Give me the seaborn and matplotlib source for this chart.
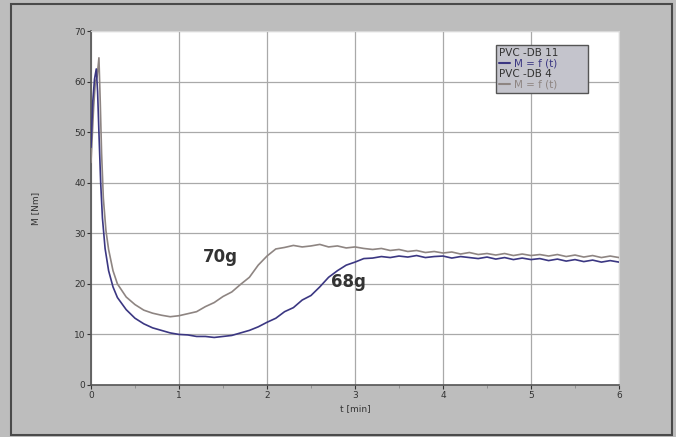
import numpy as np
import pandas as pd
import seaborn as sns
import matplotlib.pyplot as plt
from matplotlib.lines import Line2D
from matplotlib.patches import Rectangle
from matplotlib.ticker import MultipleLocator

# Torque curves
t_68 = [0.0, 0.02, 0.04, 0.06, 0.075, 0.09, 0.11, 0.13, 0.16, 0.2, 0.25,
        0.3, 0.4, 0.5, 0.6, 0.7, 0.8, 0.9, 1.0, 1.1, 1.2, 1.3, 1.4, 1.5, 1.6, 1.7, 1.8, 1.9,
        2.0, 2.1, 2.2, 2.3, 2.4, 2.5, 2.6, 2.7, 2.8, 2.9, 3.0, 3.1, 3.2, 3.3, 3.4, 3.5, 3.6,
        3.7, 3.8, 3.9, 4.0, 4.1, 4.2, 4.3, 4.4, 4.5, 4.6, 4.7, 4.8, 4.9, 5.0, 5.1, 5.2, 5.3,
        5.4, 5.5, 5.6, 5.7, 5.8, 5.9, 6.0]
m_68 = [47, 56, 60.5, 62.5, 58, 50, 40, 33, 27, 22.6, 19.4,
        17.3, 14.9, 13.2, 12.1, 11.3, 10.8, 10.3, 10.0, 9.9, 9.6, 9.6, 9.4, 9.6, 9.8, 10.3, 10.8, 11.5,
        12.4, 13.2, 14.5, 15.3, 16.8, 17.7, 19.4, 21.3, 22.6, 23.7, 24.3, 25.0, 25.1, 25.4, 25.2, 25.5, 25.3,
        25.6, 25.2, 25.4, 25.5, 25.1, 25.4, 25.2, 25.0, 25.3, 24.9, 25.2, 24.8, 25.1, 24.8, 25.0, 24.6, 24.9,
        24.5, 24.8, 24.4, 24.7, 24.3, 24.6, 24.3]

t_70 = [0.0, 0.03, 0.05, 0.07, 0.09, 0.105, 0.12, 0.14, 0.17, 0.2, 0.25,
        0.3, 0.4, 0.5, 0.6, 0.7, 0.8, 0.9, 1.0, 1.1, 1.2, 1.3, 1.4, 1.5, 1.6, 1.7, 1.8, 1.9,
        2.0, 2.1, 2.2, 2.3, 2.4, 2.5, 2.6, 2.7, 2.8, 2.9, 3.0, 3.1, 3.2, 3.3, 3.4, 3.5, 3.6,
        3.7, 3.8, 3.9, 4.0, 4.1, 4.2, 4.3, 4.4, 4.5, 4.6, 4.7, 4.8, 4.9, 5.0, 5.1, 5.2, 5.3,
        5.4, 5.5, 5.6, 5.7, 5.8, 5.9, 6.0]
m_70 = [44, 55, 60, 61, 64.7, 56, 46, 37, 30.5, 26.8, 22.6,
        20.0, 17.4, 15.9, 14.8, 14.2, 13.8, 13.5, 13.7, 14.1, 14.5, 15.5, 16.3, 17.5, 18.4, 19.9, 21.3, 23.7,
        25.5, 26.9, 27.2, 27.6, 27.3, 27.5, 27.8, 27.3, 27.5, 27.1, 27.3, 27.0, 26.8, 27.0, 26.6, 26.8, 26.4,
        26.6, 26.2, 26.4, 26.1, 26.3, 25.9, 26.2, 25.8, 26.0, 25.7, 26.0, 25.6, 25.9, 25.6, 25.8, 25.5, 25.8,
        25.4, 25.7, 25.3, 25.6, 25.2, 25.5, 25.2]

x_ticks = [0, 1, 2, 3, 4, 5, 6]
y_ticks = [0, 10, 20, 30, 40, 50, 60, 70]

col_68 = '#3b3782'
col_70 = '#8e8582'
bg = '#bdbdbd'

sns.set_style('white')
plt.rcParams['font.family'] = ['DejaVu Sans']

fig = plt.figure(figsize=(6.76, 4.37), dpi=100, facecolor=bg)
ax = fig.add_axes([91/676, 1 - 385/437, (619 - 91)/676, (385 - 31)/437])
ax.set_facecolor('white')

# outer frame of the screenshot
fig.patches.append(Rectangle((11/676, 2/437), 661/676, 431/437, transform=fig.transFigure,
                             fill=False, edgecolor='#4a4a4a', linewidth=1.5))

sns.lineplot(x=t_70, y=m_70, ax=ax, color=col_70, linewidth=1.2, zorder=3)
sns.lineplot(x=t_68, y=m_68, ax=ax, color=col_68, linewidth=1.2, zorder=4)

ax.set_xlim(0, 6)
ax.set_ylim(0, 70)
ax.set_xticks(x_ticks)
ax.set_yticks(y_ticks)
ax.xaxis.set_minor_locator(MultipleLocator(0.5))
ax.grid(True, which='major', color='#a9a9a9', linewidth=0.9)
ax.tick_params(axis='both', which='major', labelsize=6.5, colors='#333333', length=3, direction='out', pad=1)
ax.tick_params(axis='x', which='minor', length=2, color='#888888')
ax.tick_params(axis='both', which='both', bottom=True, left=True)

for side in ['left', 'bottom']:
    ax.spines[side].set_color('#555555')
    ax.spines[side].set_linewidth(1.2)
for side in ['top', 'right']:
    ax.spines[side].set_color('#d8d8d8')
    ax.spines[side].set_linewidth(0.8)

ax.set_xlabel('t [min]', fontsize=6.5, color='#333333', labelpad=3)
ax.set_ylabel('M [Nm]', fontsize=6.5, color='#333333', labelpad=24)

ax.text(1.47, 25.4, '70g', fontsize=12, fontweight='bold', color='#333333', ha='center', va='center')
ax.text(2.92, 20.3, '68g', fontsize=12, fontweight='bold', color='#333333', ha='center', va='center')

handles = [Line2D([], [], color='none'), Line2D([], [], color=col_68, linewidth=1.5),
           Line2D([], [], color='none'), Line2D([], [], color=col_70, linewidth=1.5)]
labels = ['PVC -DB 11        ', 'M = f (t)', 'PVC -DB 4', 'M = f (t)']
leg = ax.legend(handles, labels, loc='upper right', bbox_to_anchor=(0.951, 0.975), fontsize=7.5,
                frameon=True, fancybox=False, handlelength=1.0, handletextpad=0.4,
                labelspacing=0.05, borderpad=0.3, facecolor='#c4c4cc', edgecolor='#555555', framealpha=1)
leg.get_frame().set_linewidth(1.0)
for i, txt in enumerate(leg.get_texts()):
    txt.set_color('#333333' if i % 2 == 0 else (col_68 if i == 1 else col_70))

# header rows: drop the empty handle space so they sit flush left
try:
    rows = leg._legend_handle_box.get_children()[0].get_children()
    for i, hp in enumerate(rows):
        if i % 2 == 0:
            hp.get_children()[0].width = 0
            hp.sep = 0
except Exception:
    pass

fig.savefig('out.png', dpi=100, facecolor=bg)
